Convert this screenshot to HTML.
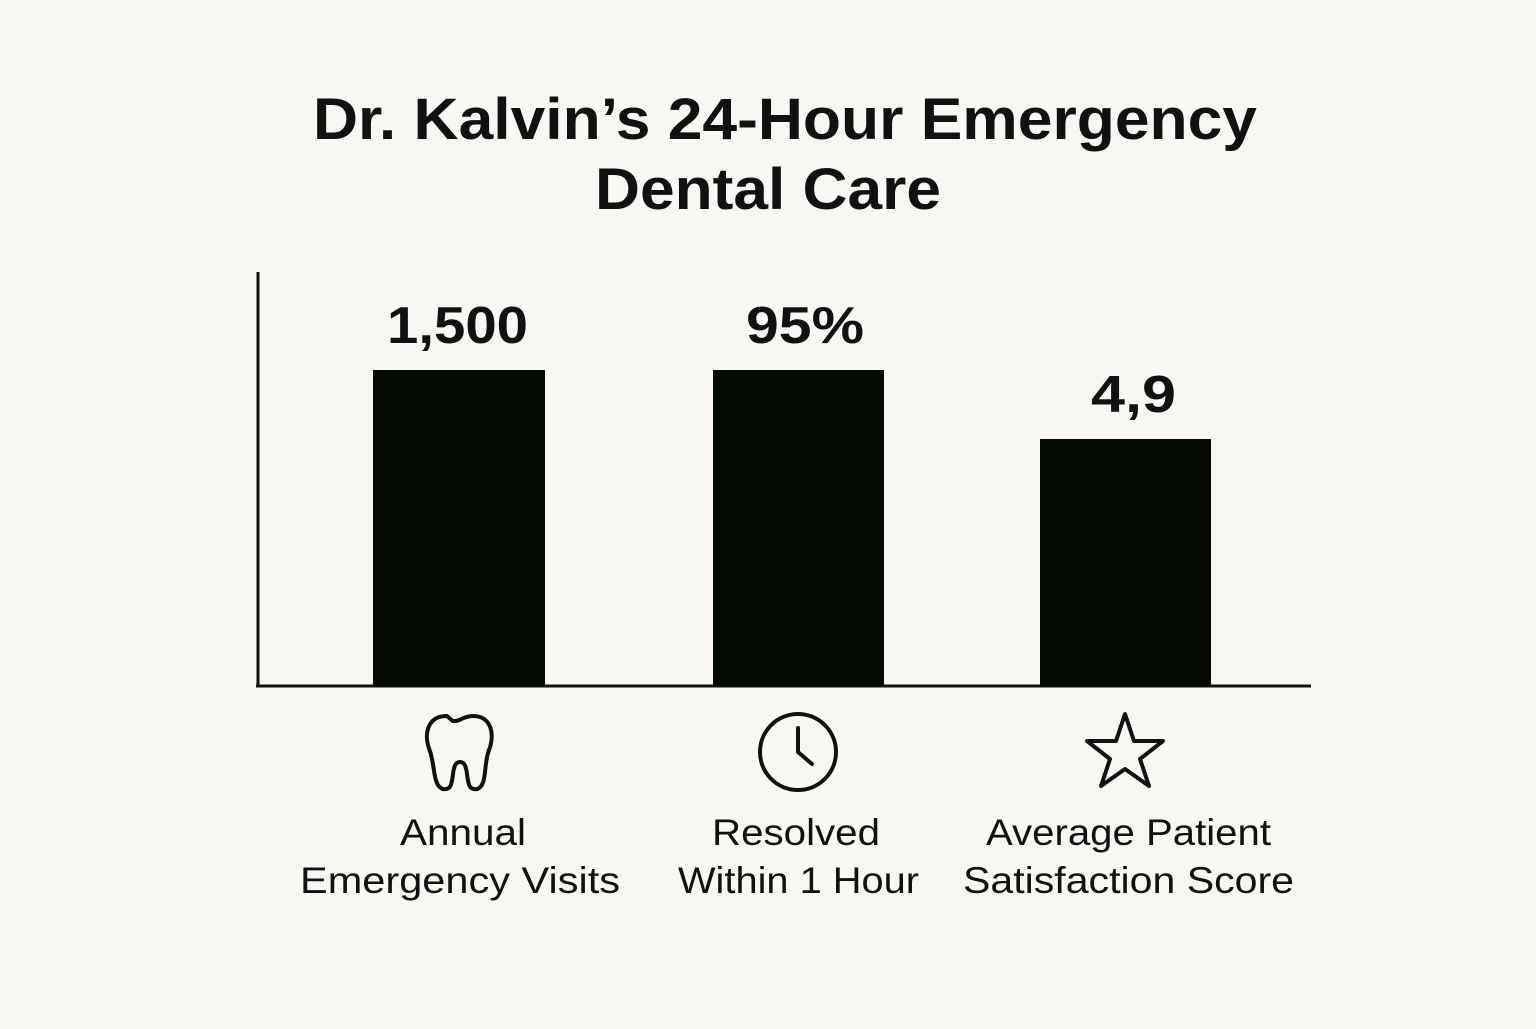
<!DOCTYPE html>
<html><head><style>body{margin:0;background:#f8f7f3}</style></head><body>
<svg width="1536" height="1024" viewBox="0 0 1536 1024" xmlns="http://www.w3.org/2000/svg" font-family="Liberation Sans, sans-serif">
<rect width="1536" height="1024" fill="#f8f7f3"/>
<g font-weight="bold" fill="#111" font-size="58">
<text x="313" y="139" textLength="944" lengthAdjust="spacingAndGlyphs">Dr. Kalvin’s 24-Hour Emergency</text>
<text x="595" y="209" textLength="346" lengthAdjust="spacingAndGlyphs">Dental Care</text>
</g>
<line x1="258" y1="272" x2="258" y2="687" stroke="#111" stroke-width="3"/>
<line x1="256" y1="686" x2="1311" y2="686" stroke="#111" stroke-width="3"/>
<rect x="373" y="370" width="172" height="316" fill="#050a05"/>
<rect x="713" y="370" width="171" height="316" fill="#050a05"/>
<rect x="1040" y="439" width="171" height="247" fill="#050a05"/>
<g font-weight="bold" fill="#111" font-size="52">
<text x="387" y="343" textLength="141" lengthAdjust="spacingAndGlyphs">1,500</text>
<text x="746" y="343" textLength="118" lengthAdjust="spacingAndGlyphs">95%</text>
<text x="1091" y="412" textLength="85" lengthAdjust="spacingAndGlyphs">4,9</text>
</g>
<g fill="none" stroke="#111" stroke-width="4" stroke-linejoin="round" stroke-linecap="round">
<g transform="translate(460 0) scale(1.45 1) translate(-449 0)">
<path d="M440 716 C426 716 424 735 428 750 C432 765 430 785 437 789 C445 791 443 777 445 768 C446 760 452 760 453 768 C455 777 453 791 461 789 C468 785 465 765 469 750 C473 735 471 716 458 716 C451 716 449 722 444 721 Z" vector-effect="non-scaling-stroke"/>
</g>
<ellipse cx="798" cy="752" rx="38" ry="38"/>
<path d="M798 728 V752 L812 764"/>
<path d="M1125 714 L1134 741 L1163 741 L1140 759 L1149 786 L1125 769 L1101 786 L1110 759 L1087 741 L1116 741 Z"/>
</g>
<g fill="#111" font-size="37">
<text x="400" y="845" textLength="126" lengthAdjust="spacingAndGlyphs">Annual</text>
<text x="300" y="893" textLength="320" lengthAdjust="spacingAndGlyphs">Emergency Visits</text>
<text x="712" y="845" textLength="168" lengthAdjust="spacingAndGlyphs">Resolved</text>
<text x="678" y="893" textLength="241" lengthAdjust="spacingAndGlyphs">Within 1 Hour</text>
<text x="986" y="845" textLength="285" lengthAdjust="spacingAndGlyphs">Average Patient</text>
<text x="963" y="893" textLength="331" lengthAdjust="spacingAndGlyphs">Satisfaction Score</text>
</g>
</svg>
</body></html>
